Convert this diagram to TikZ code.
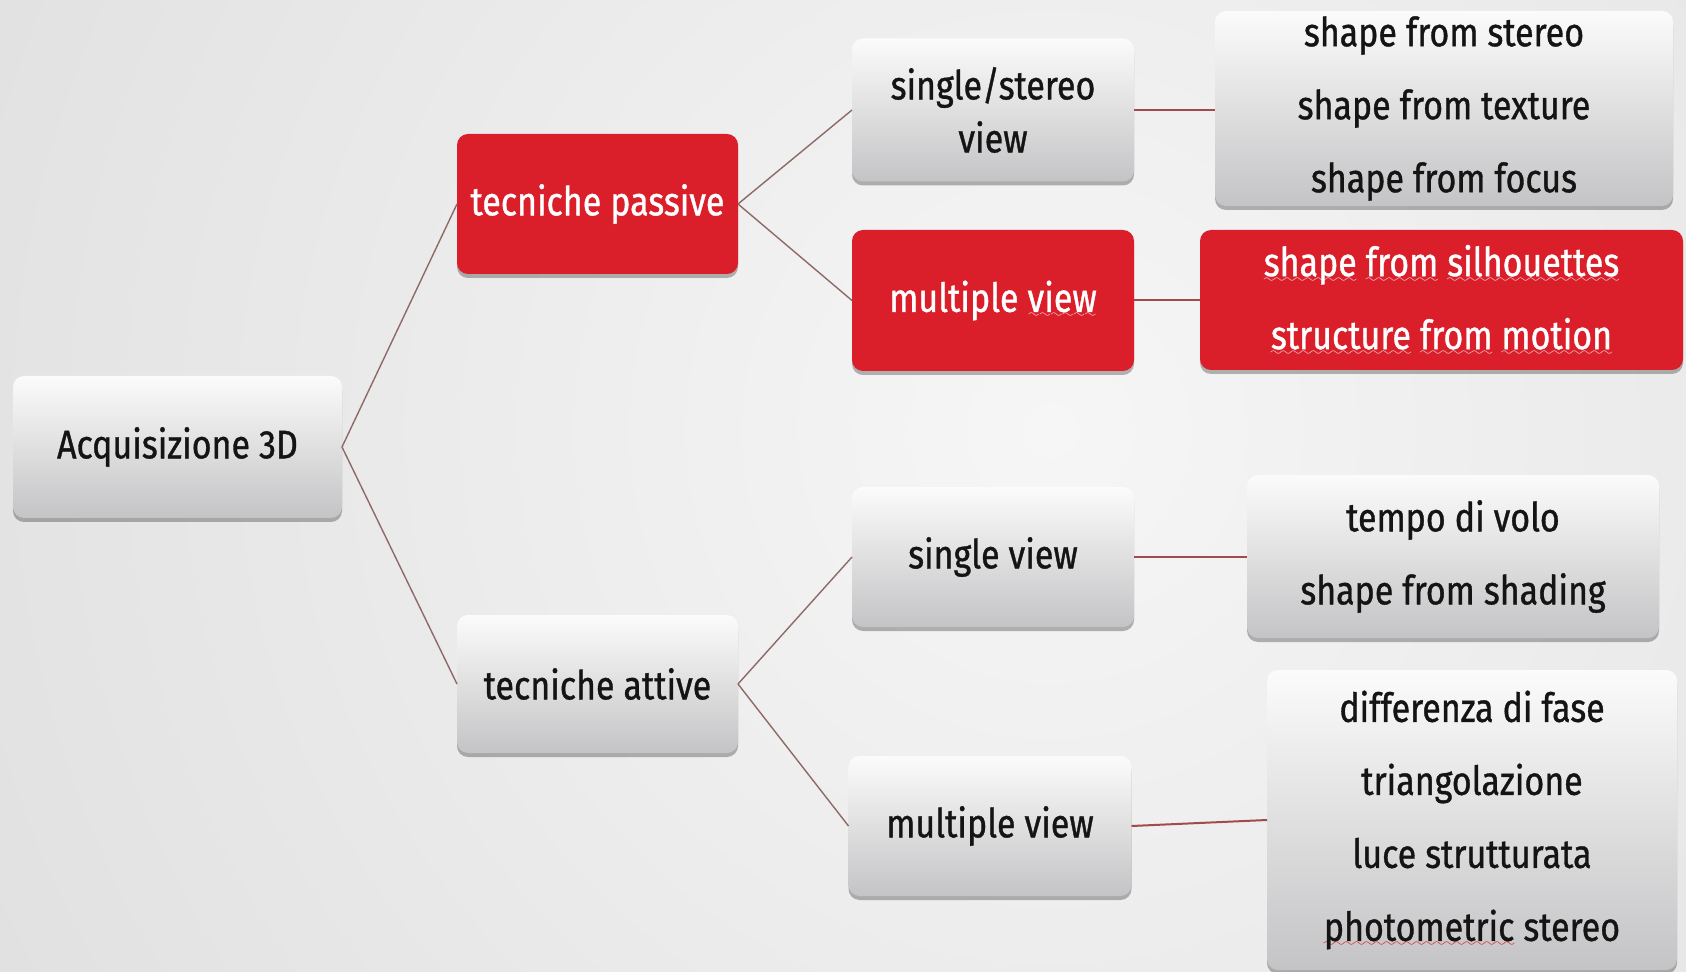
\documentclass[tikz,border=0pt]{standalone}
\usepackage{fontspec}
\setmainfont{Fira Sans}[FakeStretch=0.85, FakeBold=0.9]
\usetikzlibrary{shadows}
\definecolor{bgin}{HTML}{F6F6F6}
\definecolor{bgout}{HTML}{CDCDCF}
\definecolor{boxtop}{HTML}{FBFBFB}
\definecolor{boxbot}{HTML}{C4C4C6}
\definecolor{redbox}{HTML}{DA1F2B}
\definecolor{txt}{HTML}{141414}
\definecolor{diagline}{HTML}{8E6A66}
\definecolor{hline}{HTML}{A34A4A}
\definecolor{sqw}{HTML}{F4D6D6}
\definecolor{sqr}{HTML}{E02020}
\font\sqfont=lasy6
\newcommand{\sqg}[2]{\setbox0\hbox{#2}\rlap{\textcolor{#1}{\lower3pt\hbox to \wd0{\xleaders\hbox{\sqfont\char58}\hfil}}}\box0\relax}
\tikzset{
  basebox/.style={rounded corners=5.5pt, inner sep=0pt, outer sep=0pt, align=center,
    drop shadow={shadow xshift=0pt, shadow yshift=-2pt, opacity=0.28, fill=black},
    font=\fontsize{20}{26.5}\selectfont},
  graybox/.style={basebox, top color=boxtop, bottom color=boxbot, text=txt},
  rednode/.style={basebox, fill=redbox, text=white},
  listfont/.style={font=\fontsize{20}{36.5}\selectfont},
  diag/.style={draw=diagline, line width=0.7pt},
  horiz/.style={draw=hline, line width=1pt}
}
\begin{document}
\begin{tikzpicture}[x=0.5pt, y=-0.5pt]
  \useasboundingbox (0,0) rectangle (1686,972);
  \begin{scope}
    \clip (0,0) rectangle (1686,972);
    \shade[inner color=bgin, outer color=bgout] (1050,430) circle (2300);
  \end{scope}

  \node[graybox, minimum width=164.5pt, minimum height=71pt] (acq) at (177.5,447) {Acquisizione 3D};
  \node[rednode, minimum width=140.5pt, minimum height=70pt] (pas) at (597.5,204) {tecniche passive};
  \node[graybox, minimum width=140.5pt, minimum height=69pt] (att) at (597.5,684) {tecniche attive};

  \node[graybox, minimum width=141pt, minimum height=71.5pt] (ssv) at (993,110) {single/stereo\\view};
  \node[rednode, minimum width=141pt, minimum height=70.5pt] (mvr) at (993,300.5) {multiple \sqg{sqw}{view}};
  \node[graybox, minimum width=141pt, minimum height=70pt] (sv) at (993,557) {single view};
  \node[graybox, minimum width=141.5pt, minimum height=70pt] (mv) at (990,826) {multiple view};

  \node[graybox, listfont, minimum width=229pt, minimum height=97.5pt] (l1) at (1444,108.5)
    {shape from stereo\\shape from texture\\shape from focus};
  \node[rednode, listfont, minimum width=241.5pt, minimum height=70pt] (l2) at (1441.5,300)
    {\sqg{sqw}{shape} \sqg{sqw}{from} \sqg{sqw}{silhouettes}\\\sqg{sqw}{structure} \sqg{sqw}{from} \sqg{sqw}{motion}};
  \node[graybox, listfont, minimum width=206pt, minimum height=81.5pt] (l3) at (1453,556.5)
    {tempo di volo\\shape from shading};
  \node[graybox, listfont, minimum width=205pt, minimum height=150pt] (l4) at (1472,820)
    {differenza di fase\\triangolazione\\luce strutturata\\\sqg{sqr}{photometric} stereo};

  \draw[diag] (acq.east) -- (pas.west);
  \draw[diag] (acq.east) -- (att.west);
  \draw[diag] (pas.east) -- (ssv.west);
  \draw[diag] (pas.east) -- (mvr.west);
  \draw[diag] (att.east) -- (sv.west);
  \draw[diag] (att.east) -- (mv.west);

  \draw[horiz] (ssv.east) -- (ssv.east -| l1.west);
  \draw[horiz] (mvr.east) -- (mvr.east -| l2.west);
  \draw[horiz] (sv.east) -- (sv.east -| l3.west);
  \draw[horiz] (mv.east) -- (l4.west);
\end{tikzpicture}
\end{document}
